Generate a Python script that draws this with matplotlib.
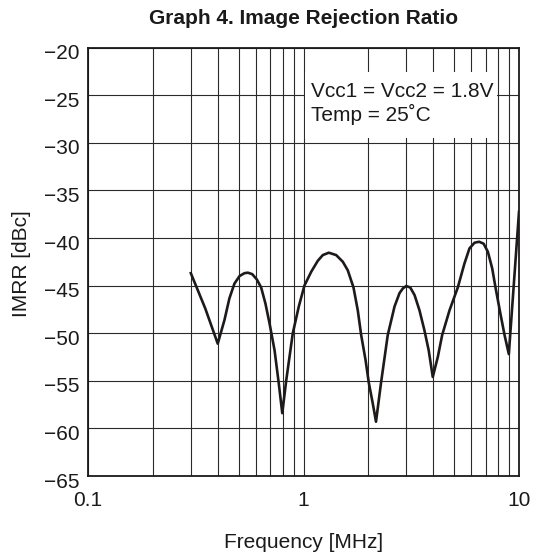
import matplotlib
matplotlib.use("Agg")
import matplotlib.pyplot as plt
from matplotlib.ticker import LogLocator, NullFormatter, FixedLocator, FixedFormatter
from matplotlib.patches import Rectangle
import matplotlib.transforms as mtransforms

plt.rcParams['font.family'] = ['Liberation Sans', 'DejaVu Sans']

# Data
freq_mhz = [0.300, 0.350, 0.400, 0.430, 0.453, 0.478, 0.505, 0.532, 0.552, 0.578, 0.607, 0.636, 0.666, 0.696,
            0.734, 0.768, 0.797,
            0.831, 0.892, 0.951, 1.010, 1.086, 1.165, 1.229, 1.310, 1.418, 1.522, 1.605, 1.706, 1.786, 1.852,
            1.940, 2.009, 2.097, 2.170,
            2.290, 2.460, 2.645, 2.789, 2.891, 2.996, 3.128, 3.276, 3.453, 3.640, 3.810, 3.980,
            4.200, 4.400, 4.760, 5.200, 5.580, 5.890, 6.220, 6.530, 6.850, 7.170, 7.510, 7.780, 8.190,
            8.570, 8.970, 10.00]
imrr_dbc = [-43.7, -47.4, -51.1, -48.6, -46.35, -44.8, -44.0, -43.7, -43.65, -43.8, -44.35, -45.2, -46.9, -49.0,
            -51.8, -55.3, -58.4,
            -55.0, -50.0, -47.2, -45.0, -43.55, -42.4, -41.8, -41.55, -41.8, -42.5, -43.4, -45.2, -47.6, -50.2,
            -52.8, -55.2, -57.4, -59.3,
            -55.2, -50.2, -47.2, -45.8, -45.3, -45.05, -45.2, -46.0, -47.6, -49.7, -51.8, -54.6,
            -52.5, -50.2, -47.6, -45.2, -42.7, -41.1, -40.5, -40.4, -40.6, -41.45, -43.2, -45.2, -47.9,
            -50.2, -52.2, -37.25]

y_ticks = [-65, -60, -55, -50, -45, -40, -35, -30, -25, -20]
x_ticks = [0.1, 1, 10]
x_tick_labels = ["0.1", "1", "10"]

title = "Graph 4. Image Rejection Ratio"
annotation = "Vcc1 = Vcc2 = 1.8V\nTemp = 25\u02daC"

W, H = 544, 558
fig = plt.figure(figsize=(W / 100, H / 100), dpi=100)
ax = fig.add_axes([88 / W, 1 - 476 / H, (519 - 88) / W, (476 - 47.5) / H])

ax.set_xscale('log')
ax.set_xlim(0.1, 10)
ax.set_ylim(-65, -20)

ax.xaxis.set_major_locator(FixedLocator(x_ticks))
ax.xaxis.set_major_formatter(FixedFormatter(x_tick_labels))
ax.xaxis.set_minor_locator(LogLocator(base=10, subs=range(2, 10)))
ax.xaxis.set_minor_formatter(NullFormatter())
ax.set_yticks(y_ticks)
ax.set_yticklabels([str(v).replace('-', '\u2212') for v in y_ticks])

ax.grid(True, which='both', axis='x', color='#2a2a2a', lw=0.8)
ax.grid(True, which='major', axis='y', color='#2a2a2a', lw=0.8)
ax.set_axisbelow(True)

ax.tick_params(axis='both', which='both', length=0)
ax.tick_params(axis='x', pad=11, labelsize=15, colors='#1a1a1a')
ax.tick_params(axis='y', pad=6, labelsize=15, colors='#1a1a1a')
offset = mtransforms.ScaledTranslation(0, -3 / 72, fig.dpi_scale_trans)
for lbl in ax.get_yticklabels():
    lbl.set_transform(lbl.get_transform() + offset)

for sp in ax.spines.values():
    sp.set_linewidth(1.3)
    sp.set_color('#1a1a1a')

ax.plot(freq_mhz, imrr_dbc, color='#1f1a1a', lw=1.9, solid_joinstyle='round', zorder=3)

# white annotation box
ax.add_patch(Rectangle((1.015, -29.5), 7.9 - 1.015, 6.9, facecolor='white', edgecolor='none', zorder=1.5))
fig.text(311 / W, 1 - 103.5 / H, annotation, fontsize=15, color='#1a1a1a',
         ha='left', va='center', linespacing=1.18)

fig.text(303.5 / W, 1 - 18 / H, title, fontsize=15, fontweight='bold', color='#1a1a1a',
         ha='center', va='center')
fig.text(303.5 / W, 1 - 543 / H, "Frequency [MHz]", fontsize=15, color='#1a1a1a',
         ha='center', va='center')
fig.text(22 / W, 1 - 264 / H, "IMRR [dBc]", fontsize=15, color='#1a1a1a',
         ha='center', va='center', rotation=90)

fig.savefig("out.png", dpi=100)
